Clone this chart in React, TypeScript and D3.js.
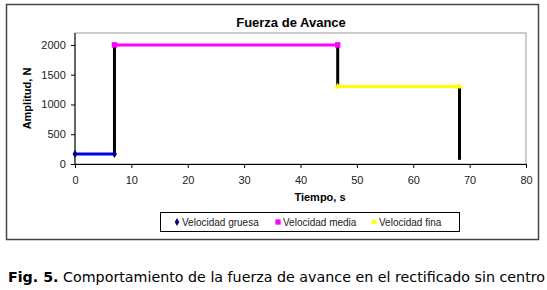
import React, { useEffect, useRef } from 'react';
import * as d3 from 'd3';

// Series (time in s, amplitude in N)
const gruesaX = [0, 7];
const gruesaY = [170, 170];
const mediaX = [7, 46.6];
const mediaY = [2000, 2000];
const finaX = [46.6, 68.2];
const finaY = [1300, 1300];
// black vertical steps between stages
const stepX = [7, 46.6, 68.2];
const stepFrom = [170, 2000, 1300];
const stepTo = [2000, 1300, 70];

const xTicks = [0, 10, 20, 30, 40, 50, 60, 70, 80];
const yTicks = [0, 500, 1000, 1500, 2000];
const legendLabels = ['Velocidad gruesa', 'Velocidad media', 'Velocidad fina'];

const FONT = '"Liberation Sans", Arial, sans-serif';

export default function App() {
  const svgRef = useRef<SVGSVGElement | null>(null);

  useEffect(() => {
    if (!svgRef.current) return;
    const svg = d3.select(svgRef.current);
    svg.selectAll('*').remove();

    const left = 75, right = 526, top = 33, bottom = 164;
    const x = d3.scaleLinear().domain([0, 80]).range([left, right]);
    const y = d3.scaleLinear().domain([0, 2200]).range([bottom, top]);

    // outer chart frame
    svg.append('rect')
      .attr('x', 6.5).attr('y', 4.5).attr('width', 532).attr('height', 235)
      .attr('fill', '#fff').attr('stroke', '#444').attr('stroke-width', 1.5);

    // plot area border
    svg.append('rect')
      .attr('x', left).attr('y', top).attr('width', right - left).attr('height', bottom - top)
      .attr('fill', 'none').attr('stroke', '#999').attr('stroke-width', 1);

    // title
    svg.append('text')
      .attr('x', 291).attr('y', 27).attr('text-anchor', 'middle')
      .attr('font-family', FONT).attr('font-size', 13).attr('font-weight', 'bold')
      .text('Fuerza de Avance');

    // axes
    const xAxis = d3.axisBottom(x).tickValues(xTicks).tickFormat(d3.format('d')).tickSize(4).tickSizeOuter(0);
    const gx = svg.append('g').attr('transform', `translate(0,${bottom})`).call(xAxis);
    gx.selectAll('text').attr('font-family', FONT).attr('font-size', 11).attr('fill', '#222').attr('dy', '1.2em');

    const yAxis = d3.axisLeft(y).tickValues(yTicks).tickFormat(d3.format('d')).tickSize(4).tickSizeOuter(0);
    const gy = svg.append('g').attr('transform', `translate(${left},0)`).call(yAxis);
    gy.selectAll('text').attr('font-family', FONT).attr('font-size', 11).attr('fill', '#222').attr('dx', '-0.2em');
    gy.select('.domain').attr('d', `M0,${top}V${bottom}`);
    [gx, gy].forEach((g) => g.selectAll('line,.domain').attr('stroke', '#000'));

    svg.append('text')
      .attr('transform', `translate(31,${(top + bottom) / 2}) rotate(-90)`)
      .attr('text-anchor', 'middle')
      .attr('font-family', FONT).attr('font-size', 11).attr('font-weight', 'bold')
      .text('Amplitud, N');

    svg.append('text')
      .attr('x', 320).attr('y', 201).attr('text-anchor', 'middle')
      .attr('font-family', FONT).attr('font-size', 11).attr('font-weight', 'bold')
      .text('Tiempo, s');

    // black step lines
    stepX.forEach((sx, i) => {
      svg.append('line')
        .attr('x1', x(sx)).attr('x2', x(sx))
        .attr('y1', y(stepFrom[i])).attr('y2', y(stepTo[i]))
        .attr('stroke', '#000').attr('stroke-width', 3);
    });

    const line = d3.line<[number, number]>().x((d) => x(d[0])).y((d) => y(d[1]));
    const series = [
      { xs: gruesaX, ys: gruesaY, color: '#0000e0', marker: 'diamond' },
      { xs: mediaX, ys: mediaY, color: '#ff00ff', marker: 'square' },
      { xs: finaX, ys: finaY, color: '#ffff00', marker: 'triangle' },
    ];

    series.forEach((s) => {
      const pts = s.xs.map((v, i) => [v, s.ys[i]] as [number, number]);
      svg.append('path').attr('d', line(pts)!).attr('fill', 'none')
        .attr('stroke', s.color).attr('stroke-width', 3);
      const sym = s.marker === 'diamond' ? d3.symbolDiamond : s.marker === 'square' ? d3.symbolSquare : d3.symbolTriangle;
      const size = s.marker === 'square' ? 30 : 20;
      pts.forEach((p) => {
        svg.append('path')
          .attr('d', d3.symbol(sym, size)()!)
          .attr('transform', `translate(${x(p[0])},${y(p[1])})`)
          .attr('fill', s.marker === 'diamond' ? '#000080' : s.color);
      });
    });

    // legend
    svg.append('rect')
      .attr('x', 160.5).attr('y', 212.5).attr('width', 299).attr('height', 19)
      .attr('fill', '#fff').attr('stroke', '#000').attr('stroke-width', 1);
    const legendX = [177, 278, 374];
    const legendColors = ['#000080', '#ff00ff', '#ffff00'];
    const legendSyms = [d3.symbolDiamond, d3.symbolSquare, d3.symbolTriangle];
    legendLabels.forEach((lbl, i) => {
      svg.append('path')
        .attr('d', d3.symbol(legendSyms[i], i === 1 ? 28 : 18)()!)
        .attr('transform', `translate(${legendX[i]},222)`)
        .attr('fill', legendColors[i]);
      svg.append('text')
        .attr('x', legendX[i] + 5).attr('y', 225.5)
        .attr('font-family', FONT).attr('font-size', 10).attr('fill', '#222')
        .text(lbl);
    });

    // caption
    const cap = svg.append('text')
      .attr('x', 8).attr('y', 282)
      .attr('font-family', '"DejaVu Sans", sans-serif').attr('font-size', 14)
      .attr('textLength', 537).attr('lengthAdjust', 'spacingAndGlyphs');
    cap.append('tspan').attr('font-weight', 'bold').text('Fig. 5.');
    cap.append('tspan').text(' Comportamiento de la fuerza de avance en el rectificado sin centro');
  }, []);

  return (
    <svg
      ref={svgRef}
      width={547}
      height={290}
      style={{ position: 'absolute', left: 0, top: 0, background: '#fff' }}
    />
  );
}
